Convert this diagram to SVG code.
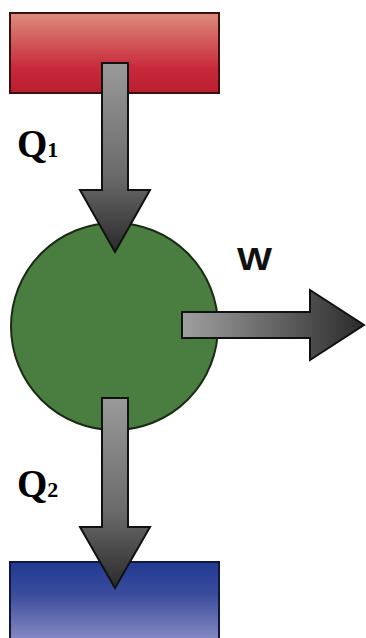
<svg xmlns="http://www.w3.org/2000/svg" width="366" height="638" viewBox="0 0 366 638">
<defs>
<linearGradient id="gRed" x1="0" y1="0" x2="0" y2="1">
<stop offset="0" stop-color="#dc8c7c"/>
<stop offset="0.7" stop-color="#c8283a"/>
<stop offset="1" stop-color="#b8202e"/>
</linearGradient>
<linearGradient id="gBlue" x1="0" y1="0" x2="0" y2="1">
<stop offset="0" stop-color="#223a92"/>
<stop offset="0.4" stop-color="#3a4c9c"/>
<stop offset="1" stop-color="#8a8cc4"/>
</linearGradient>
<linearGradient id="gDown" x1="0" y1="0" x2="0" y2="1">
<stop offset="0" stop-color="#9a9a9a"/>
<stop offset="0.6" stop-color="#6a6a6a"/>
<stop offset="1" stop-color="#2a2a2a"/>
</linearGradient>
<linearGradient id="gRight" x1="0" y1="0" x2="1" y2="0">
<stop offset="0" stop-color="#a0a0a0"/>
<stop offset="0.6" stop-color="#5a5a5a"/>
<stop offset="1" stop-color="#2a2a2a"/>
</linearGradient>
<style>
.arrow{stroke:#111;stroke-width:2;stroke-linejoin:miter}
.q{font-family:"Liberation Serif","Times New Roman",serif;font-weight:bold;fill:#000}
.w{font-family:"Liberation Sans",Arial,sans-serif;font-weight:bold;fill:#111}
</style>
</defs>
<g id="hot">
<rect x="10" y="13" width="209" height="80" fill="url(#gRed)" stroke="#3a1010" stroke-width="2"/>
</g>
<g id="cold">
<rect x="10" y="562" width="209" height="80" fill="url(#gBlue)" stroke="#101840" stroke-width="2"/>
</g>
<g id="engine">
<circle cx="114.5" cy="326.5" r="103.5" fill="#4a7d40" stroke="#1a2a14" stroke-width="2"/>
</g>
<g id="connectors">
<path class="arrow" fill="url(#gDown)" d="M102,63 H128 V190 H150 L115,252 L80,190 H102 Z"/>
<path class="arrow" fill="url(#gRight)" d="M182,312 V338 H310 V360 L364,325 L310,290 V312 Z"/>
<path class="arrow" fill="url(#gDown)" d="M102,398 H128 V527 H150 L115,588 L80,527 H102 Z"/>
</g>
<g id="labels">
<text class="q" x="17" y="157" font-size="39">Q<tspan font-size="22">1</tspan></text>
<text class="w" x="237" y="270" font-size="32" textLength="35" lengthAdjust="spacingAndGlyphs">W</text>
<text class="q" x="17" y="497" font-size="39">Q<tspan font-size="22">2</tspan></text>
</g>
</svg>
